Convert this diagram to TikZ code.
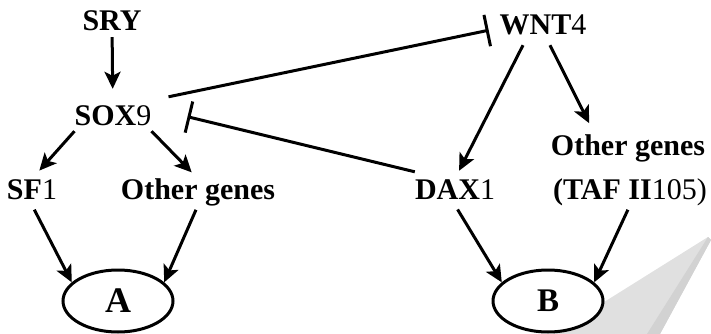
\documentclass[tikz,border=0pt]{standalone}
\usepackage{fontspec}
\setmainfont{Liberation Serif}
\usepackage{xcolor}
\usepackage{tikz}
\usetikzlibrary{arrows.meta, calc, shapes.geometric}
\definecolor{shadeA}{HTML}{E0E0E0}
\definecolor{shadeB}{HTML}{D2D2D2}

\begin{document}
\begin{tikzpicture}[x=1pt, y=-1pt,
  gene/.style={font=\fontsize{30}{30}\selectfont, text height=20pt, text depth=6pt, inner sep=0pt},
  act/.style={-{Stealth[length=17pt, width=16pt, inset=4pt]}, line width=3pt},
  inh/.style={-{Bar[width=32pt]}, line width=3pt},
  fate/.style={ellipse, draw, line width=3pt, fill=white, minimum width=110pt, minimum height=62pt, inner sep=0pt}]
\useasboundingbox (0,0) rectangle (711,334);

% grey wedge in the corner
\fill[shadeA] (708,237) -- (711,240) -- (660,334) -- (553,334) -- cycle;
\fill[shadeB] (708,237) -- (711,240) -- (660,334) -- (647,334) -- cycle;

% genes
\node[gene] (sry) at (112,24) {\textbf{SRY}};
\node[gene] (sox) at (113,118) {\textbf{SOX}9};
\node[gene] (sf) at (32,192) {\textbf{SF}1};
\node[gene] (oga) at (198,192) {\textbf{Other genes}};
\node[gene] (wnt) at (543,28) {\textbf{WNT}4};
\node[gene] (ogb) at (628,148) {\textbf{Other genes}};
\node[gene] (dax) at (455,192) {\textbf{DAX}1};
\node[gene] (taf) at (630,192) {\textbf{(TAF II}105)};
\node[fate, font=\fontsize{36}{36}\selectfont\bfseries] (A) at (118,301) {A};
\node[fate, font=\fontsize{33}{33}\selectfont\bfseries] (B) at (548,301) {B};

\draw[act, shorten >=16pt] (sry) -- (sox);
\draw[act, shorten >=11pt] (sox.south west) -- (sf.north);
\draw[act, shorten >=9pt] (sox.south east) -- (oga.north);
\draw[act, shorten <=5pt] (sf.south) -- (A.158);
\draw[act, shorten <=5pt] (oga.south) -- (A.22);

\draw[act, shorten >=9pt] ($(wnt.south)+(-20,4)$) -- (dax.north);
\draw[act, shorten >=13pt] ($(wnt.south)+(7,4)$) -- ($(ogb.north)+(-33,0)$);
\draw[act, shorten <=5pt] (dax.south) -- (B.158);
\draw[act, shorten <=5pt] (taf.south) -- (B.22);

% repression
\draw[inh, shorten >=11pt] ($(sox.north east)+(17,-8)$) -- (wnt.west);
\draw[inh, shorten >=37pt] ($(dax.north west)+(0,-7)$) -- ($(sox.east)+(0,-10)$);

\end{tikzpicture}
\end{document}
